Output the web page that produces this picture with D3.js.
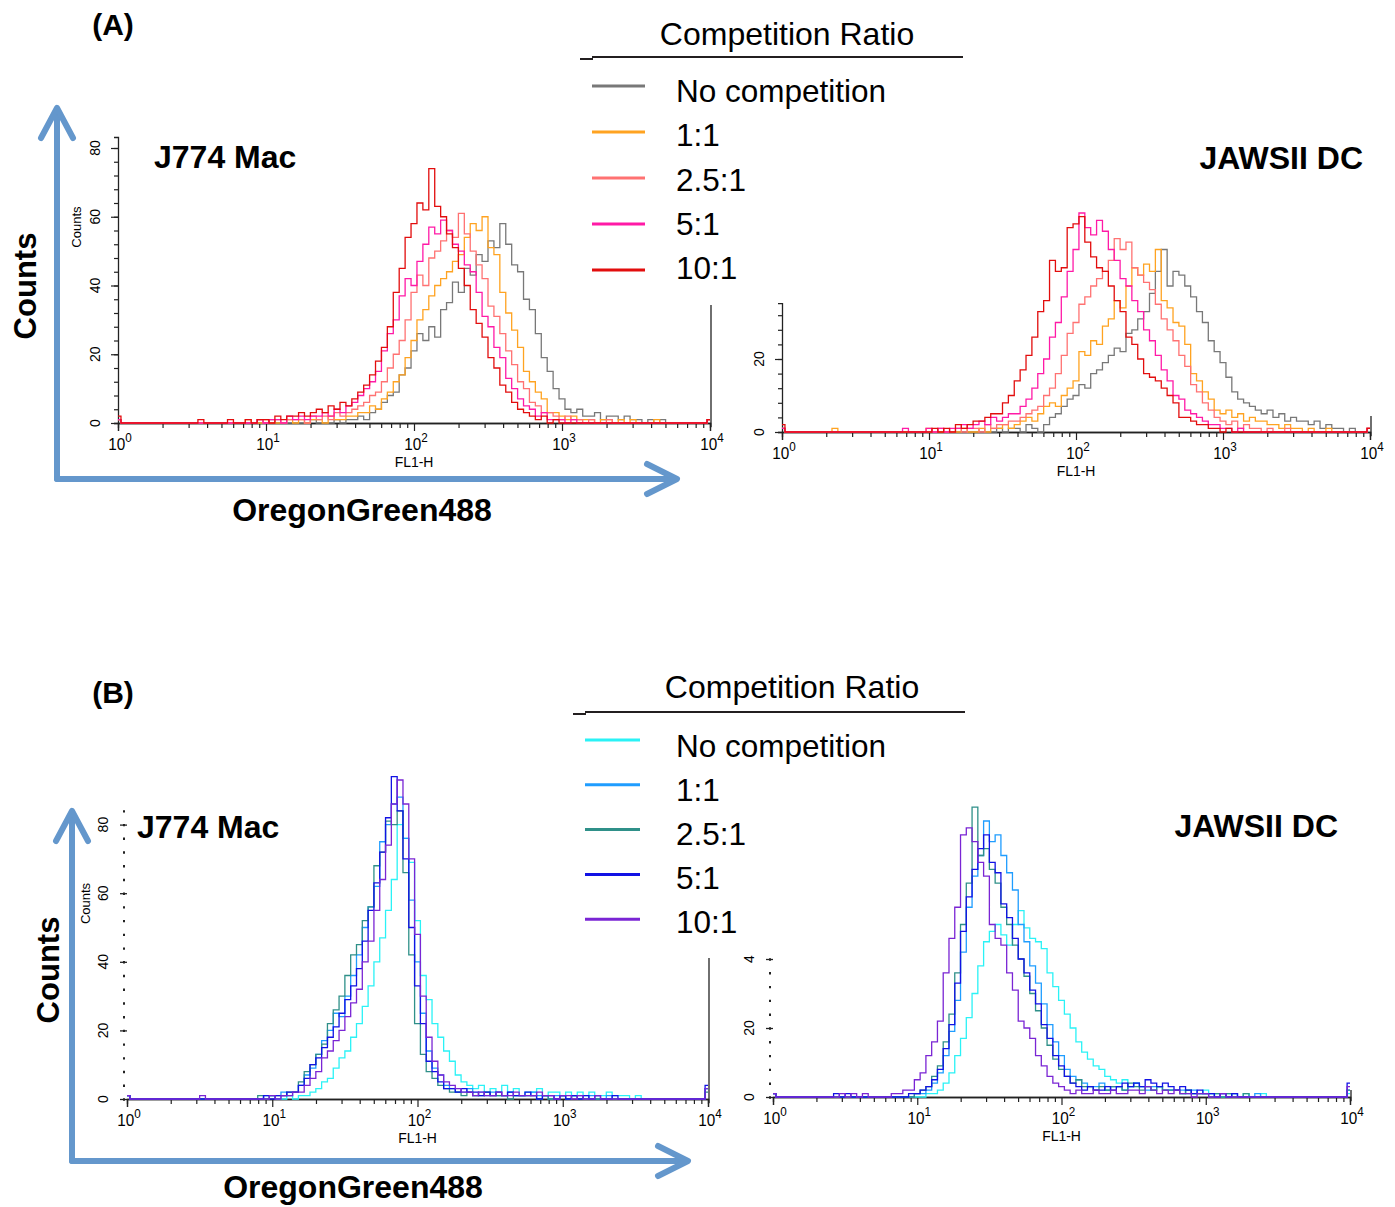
<!DOCTYPE html>
<html>
<head>
<meta charset="utf-8">
<script src="https://cdn.jsdelivr.net/npm/d3@7"></script>
<style>
  body { margin: 0; background: #fff; }
  svg { display: block; }
  text { font-family: "Liberation Sans", Arial, Helvetica, sans-serif; fill: #000; }
</style>
</head>
<body>
<svg id="fig" width="1395" height="1207"></svg>
<script>
// ---------------------------------------------------------------------------
// FL1-H histograms: 101 channels, 0.04 decade apart, from 10^0 to 10^4
// ---------------------------------------------------------------------------
const binStep = 0.04;
const decadeTicks = [1, 10, 100, 1000, 10000];
const decadeExponents = ["0", "1", "2", "3", "4"];
const legendTitle = "Competition Ratio";
const ratioLabels = ["No competition", "1:1", "2.5:1", "5:1", "10:1"];
const cellLines = ["J774 Mac", "JAWSII DC"];
const colorsA = ["#787878", "#ffa321", "#ff7272", "#ff1aa6", "#e20d0d"];
const colorsB = ["#2af2f6", "#1f9dff", "#2f9089", "#1212e4", "#7a25d4"];

// (A) J774 macrophages, counts per channel
const macA_none = [
  1,0,0,0,0,0,0,0,0,0,  0,0,0,0,0,0,0,0,0,0,  0,0,0,0,0,0,1,0,0,0,
  0,0,0,1,0,0,0,1,0,1,  1,2,1,3,4,6,8,9,14,16,  21,26,24,28,25,33,35,41,38,45,
  43,49,47,53,51,58,52,46,44,36,  33,26,19,15,10,7,4,3,4,2,  2,3,1,2,2,1,2,1,1,0,
  1,0,1,0,0,0,0,0,0,0,  1];
const macA_1to1 = [
  1,0,0,0,0,0,0,0,0,0,  0,0,0,0,0,0,0,0,0,0,  0,0,1,0,0,1,0,0,0,1,
  0,1,0,1,1,0,2,1,1,2,  2,3,3,5,4,7,9,12,14,19,  24,30,33,37,40,42,44,47,49,54,
  58,56,60,51,49,38,32,27,22,15,  12,9,7,3,3,2,1,2,1,1,  1,0,1,1,0,1,0,1,0,0,
  0,1,0,0,0,0,0,0,0,0,  1];
const macA_2p5to1 = [
  1,0,0,0,0,0,0,0,0,0,  0,0,0,0,0,0,0,0,0,0,  0,0,0,0,1,0,0,1,0,1,
  1,1,0,2,1,2,1,3,2,3,  4,5,6,8,9,12,16,20,24,30,  38,43,40,48,50,53,56,54,61,55,
  50,46,42,34,31,26,21,17,12,10,  6,5,3,3,2,1,2,1,1,0,  1,0,0,1,0,0,0,0,0,0,
  0,0,0,0,0,0,0,0,0,0,  1];
const macA_5to1 = [
  1,0,0,0,0,0,0,0,0,0,  0,0,0,0,0,0,0,0,0,0,  0,0,0,0,1,0,1,1,0,2,
  1,2,1,2,2,3,2,4,3,5,  6,8,10,12,15,21,26,30,37,42,  40,47,52,57,55,59,56,52,50,46,
  44,38,31,28,22,19,13,10,7,5,  4,2,3,1,1,1,0,1,0,0,  0,0,0,0,0,0,0,0,0,0,
  0,0,0,0,0,0,0,0,0,0,  1];
const macA_10to1 = [
  2,0,0,0,0,0,0,0,0,0,  0,0,0,0,1,0,0,0,0,1,  0,0,1,0,1,1,0,2,1,2,
  2,3,2,3,4,3,5,4,6,5,  7,9,11,14,18,22,28,38,45,54,  58,64,62,74,63,60,55,51,45,40,
  33,29,25,19,16,11,9,6,4,3,  2,1,2,0,1,0,0,0,0,0,  0,0,0,0,0,0,0,0,0,0,
  0,0,0,0,0,0,0,0,0,0,  1];

// (A) JAWSII dendritic cells
const jawA_none = [
  1,0,0,0,0,0,0,0,0,0,  0,0,0,0,0,0,0,0,0,0,  0,0,0,0,0,0,0,0,0,0,
  0,0,0,0,0,0,0,1,0,1,  1,0,2,1,0,2,4,5,7,9,  10,13,12,16,17,19,21,23,22,27,
  28,31,33,38,44,50,40,44,43,40,  37,33,30,25,22,19,15,11,9,8,  7,6,5,6,4,5,3,4,3,3,
  2,3,1,2,1,1,0,1,0,0,  1];
const jawA_1to1 = [
  1,0,0,0,0,0,0,0,0,1,  0,0,0,0,0,0,0,0,0,0,  0,0,0,0,0,1,0,0,0,0,
  0,1,0,0,1,0,1,1,2,1,  2,3,4,3,5,7,8,7,10,12,  14,22,21,25,24,29,31,36,34,40,
  45,43,46,44,50,36,34,30,29,24,  16,14,11,9,6,5,6,4,5,3,  4,3,3,2,2,1,2,1,1,0,
  1,0,0,1,0,0,0,0,0,0,  1];
const jawA_2p5to1 = [
  1,0,0,0,0,0,0,0,0,0,  0,0,0,0,0,0,0,0,0,0,  0,0,0,0,0,0,0,1,0,0,
  1,0,1,1,0,2,1,2,2,3,  3,4,5,6,7,10,12,16,21,27,  30,35,37,40,42,44,47,53,50,52,
  45,43,41,39,35,31,28,25,21,18,  13,11,8,6,4,3,2,3,1,2,  1,1,0,1,0,0,1,0,0,0,
  0,0,0,0,0,0,0,0,0,0,  1];
const jawA_5to1 = [
  1,0,0,0,0,0,0,0,0,0,  0,0,0,0,0,0,0,0,0,0,  0,1,0,0,0,1,0,1,0,1,
  1,2,1,2,3,2,4,3,4,5,  5,7,9,12,16,20,26,30,37,44,  50,60,56,54,58,55,50,47,42,40,
  36,33,28,25,21,17,14,10,9,6,  5,4,3,2,2,1,1,0,1,0,  0,0,0,0,0,0,0,0,0,0,
  0,0,0,0,0,0,0,0,0,0,  1];
const jawA_10to1 = [
  2,0,0,0,0,0,0,0,0,0,  0,0,0,0,0,0,0,0,0,0,  0,0,0,0,0,0,1,0,1,0,
  2,1,2,3,3,4,5,5,8,10,  14,17,21,26,33,36,47,44,45,56,  57,59,52,48,45,44,40,36,33,26,
  24,20,16,15,14,12,10,8,4,4,  3,2,2,1,1,0,1,0,0,0,  0,0,0,0,0,0,0,0,0,0,
  0,0,0,0,0,0,0,0,0,0,  1];

// (B) J774 macrophages
const macB_none = [
  1,0,0,0,0,0,0,0,0,0,  0,0,0,0,0,0,0,0,0,0,  0,0,0,0,0,1,0,0,1,0,
  1,1,2,3,5,6,9,12,14,18,  22,27,33,40,47,55,64,80,76,69,  52,36,29,22,18,14,11,7,5,4,
  3,4,2,3,2,4,2,3,1,2,  2,3,1,2,2,1,2,1,2,1,  2,1,1,2,1,1,1,0,1,0,
  0,0,0,0,0,0,0,0,0,0,  3];
const macB_1to1 = [
  1,0,0,0,0,0,0,0,0,0,  0,0,0,0,0,0,0,0,0,0,  0,0,0,0,1,1,0,2,1,2,
  4,7,9,13,17,20,25,24,30,36,  42,50,56,62,75,80,86,88,76,58,  40,25,14,9,7,4,3,2,2,3,
  1,2,1,2,1,1,2,1,1,1,  2,1,1,0,1,1,0,1,1,0,  1,0,0,1,0,0,0,0,0,0,
  0,0,0,0,0,0,0,0,0,0,  3];
const macB_2p5to1 = [
  1,0,0,0,0,0,0,0,0,0,  0,0,0,0,0,0,0,0,0,0,  0,0,0,1,0,1,1,1,2,2,
  5,8,10,13,16,22,26,30,36,42,  45,52,56,68,72,81,80,84,66,42,  22,13,8,6,4,3,2,2,1,2,
  1,1,2,1,1,1,0,1,1,1,  1,0,1,0,0,1,0,1,0,0,  0,0,0,0,0,0,0,0,0,0,
  0,0,0,0,0,0,0,0,0,0,  2];
const macB_5to1 = [
  1,0,0,0,0,0,0,0,0,0,  0,0,0,0,0,0,0,0,0,0,  0,0,0,0,1,0,1,1,2,2,
  4,6,10,12,15,18,21,25,29,33,  38,46,55,63,72,82,94,84,70,50,  33,22,11,8,5,3,3,2,3,2,
  2,1,2,1,2,1,2,1,1,2,  1,0,1,1,0,1,0,1,0,1,  0,1,0,0,1,0,0,0,0,0,
  0,0,0,0,0,0,0,0,0,0,  4];
const macB_10to1 = [
  1,0,0,0,0,0,0,0,0,0,  0,0,0,1,0,0,0,0,0,0,  0,0,0,0,0,1,0,1,1,2,
  2,4,6,8,12,14,17,20,24,28,  32,40,46,55,64,74,86,93,86,70,  48,30,18,11,7,5,4,3,2,2,
  1,2,1,1,2,1,1,2,1,1,  1,2,1,1,0,1,1,0,1,0,  0,1,0,0,0,0,0,0,0,0,
  0,0,0,0,0,0,0,0,0,0,  3];

// (B) JAWSII dendritic cells
const jawB_none = [
  1,0,0,0,0,0,0,0,0,0,  0,0,0,0,0,0,0,0,0,0,  0,0,0,0,0,0,0,1,1,2,
  4,7,12,17,23,30,38,45,48,50,  47,44,50,54,49,46,45,43,36,32,  28,24,20,16,13,11,9,8,6,5,
  4,5,3,4,3,3,2,3,2,2,  2,1,2,1,1,2,1,1,0,1,  1,0,1,0,0,1,0,0,0,0,
  0,0,0,0,0,0,0,0,0,0,  1];
const jawB_1to1 = [
  1,0,0,0,0,0,0,0,0,0,  0,0,0,0,0,0,0,0,0,0,  0,0,0,0,0,1,1,2,4,7,
  12,19,28,42,55,64,70,80,74,76,  70,65,60,50,45,38,33,27,21,16,  12,8,6,5,4,3,3,4,2,3,
  3,2,3,4,3,2,3,3,2,2,  2,2,1,2,1,1,1,0,1,0,  1,0,0,0,1,0,0,0,0,0,
  0,0,0,0,0,0,0,0,0,0,  2];
const jawB_2p5to1 = [
  1,0,0,0,0,0,0,0,0,0,  0,0,0,0,0,0,0,0,0,0,  0,0,0,0,0,1,2,3,6,9,
  16,24,36,50,62,84,70,72,66,62,  55,50,44,40,35,30,25,20,15,11,  8,6,4,5,3,3,2,3,2,3,
  3,2,4,3,2,3,2,3,2,2,  2,1,2,1,1,1,0,1,0,1,  0,0,1,0,0,0,0,0,0,0,
  0,0,0,0,0,0,0,0,0,0,  2];
const jawB_5to1 = [
  1,0,0,0,0,0,0,0,0,0,  0,1,0,1,0,0,0,0,0,0,  0,0,0,0,1,1,2,3,5,8,
  14,21,33,48,58,66,72,76,68,65,  56,52,46,40,36,31,27,21,17,12,  9,6,4,3,2,3,2,2,3,2,
  3,4,3,4,3,5,4,3,4,3,  2,3,2,1,2,1,1,0,1,0,  1,0,0,0,0,0,0,0,0,0,
  0,0,0,0,0,0,0,0,0,0,  4];
const jawB_10to1 = [
  1,0,0,0,0,0,0,0,0,0,  0,0,1,0,1,0,1,0,0,0,  0,1,1,2,2,5,7,12,16,22,
  36,46,55,76,78,74,68,64,50,46,  44,36,31,22,20,17,12,9,6,4,  3,2,1,2,1,1,2,1,1,2,
  1,1,2,2,1,3,2,1,2,1,  2,1,1,0,1,1,0,0,1,0,  0,0,0,0,0,0,0,0,0,0,
  0,0,0,0,0,0,0,0,0,0,  3];

// ---------------------------------------------------------------------------
// Layout of the four histogram panels
// ---------------------------------------------------------------------------
const panels = [
  { series: [macA_none, macA_1to1, macA_2p5to1, macA_5to1, macA_10to1], colors: colorsA,
    x0: 118, x1: 710, base: 423, pxPerCount: 3.4375, yTop: 83.2, dotted: false, labelGap: 18,
    yLabels: [[0, "0"], [20, "20"], [40, "40"], [60, "60"], [80, "80"]],
    smallCounts: true, frameTop: 305, name: cellLines[0], nameX: 154, nameY: 168, nameAnchor: "start" },
  { series: [jawA_none, jawA_1to1, jawA_2p5to1, jawA_5to1, jawA_10to1], colors: colorsA,
    x0: 782, x1: 1370, base: 432, pxPerCount: 3.65, yTop: 35.3, dotted: false, labelGap: 18,
    yLabels: [[0, "0"], [20, "20"]],
    smallCounts: false, frameTop: 416, name: cellLines[1], nameX: 1363, nameY: 169, nameAnchor: "end" },
  { series: [macB_none, macB_1to1, macB_2p5to1, macB_5to1, macB_10to1], colors: colorsB,
    x0: 127, x1: 708, base: 1099, pxPerCount: 3.43, yTop: 87.5, dotted: true, labelGap: 19,
    yLabels: [[0, "0"], [20, "20"], [40, "40"], [60, "60"], [80, "80"]],
    smallCounts: true, frameTop: 958, name: cellLines[0], nameX: 137, nameY: 838, nameAnchor: "start" },
  { series: [jawB_none, jawB_1to1, jawB_2p5to1, jawB_5to1, jawB_10to1], colors: colorsB,
    x0: 773, x1: 1350, base: 1097, pxPerCount: 3.45, yTop: 41, dotted: true, labelGap: 19,
    yLabels: [[0, "0"], [20, "20"], [40, "4"]],
    smallCounts: false, frameTop: 1090, name: cellLines[1], nameX: 1338, nameY: 837, nameAnchor: "end" }
];

const svg = d3.select("#fig");
const channels = d3.range(101).map(i => Math.pow(10, i * binStep));
const minorTicks = [];
for (let d = 1; d < 10000; d *= 10) for (let m = 2; m <= 9; m++) minorTicks.push(d * m);

panels.forEach(p => {
  const g = svg.append("g");
  const x = d3.scaleLog().domain([1, 10000]).range([p.x0, p.x1]);
  const y = d3.scaleLinear().domain([0, p.yTop]).range([p.base, p.base - p.yTop * p.pxPerCount]);

  // x axis: decades and minor ticks
  const gx = g.append("g").attr("transform", `translate(0,${p.base})`);
  gx.call(d3.axisBottom(x).tickValues(minorTicks).tickSize(5).tickFormat(""));
  gx.call(g2 => g2.append("g").call(d3.axisBottom(x).tickValues(decadeTicks).tickSize(8).tickFormat("")));
  gx.selectAll("path.domain").attr("stroke", "#222").attr("stroke-width", 1.3);
  gx.selectAll(".tick line").attr("stroke", "#222").attr("stroke-width", 1.2);

  decadeTicks.forEach((v, k) => {
    const t = g.append("text")
      .attr("transform", `translate(${x(v) + 2},${p.base + 27}) scale(0.9,1)`)
      .attr("text-anchor", "middle").attr("font-size", 17).attr("fill", "#111");
    t.append("tspan").text("10");
    t.append("tspan").attr("dy", -8).attr("font-size", 13).text(decadeExponents[k]);
  });
  g.append("text")
    .attr("transform", `translate(${x(100)},${p.base + 44}) scale(0.9,1)`)
    .attr("text-anchor", "middle").attr("font-size", 15.5).attr("fill", "#111").text("FL1-H");

  // y axis
  const yMinor = d3.range(0, p.yTop, 4);
  const gy = g.append("g").attr("transform", `translate(${p.x0},0)`);
  if (p.dotted) {
    gy.call(d3.axisLeft(y).tickValues(yMinor).tickSize(2).tickFormat(""));
    gy.select("path.domain").remove();
    gy.selectAll(".tick line").attr("stroke", "#222").attr("stroke-width", 2.4).attr("transform", "translate(-2,0)");
    gy.append("g").call(d3.axisLeft(y).tickValues(p.yLabels.map(d => d[0])).tickSize(7).tickFormat(""))
      .call(a => a.select("path.domain").remove())
      .selectAll(".tick line").attr("stroke", "#222").attr("stroke-width", 1.3);
  } else {
    gy.call(d3.axisLeft(y).tickValues(yMinor).tickSize(4).tickFormat(""));
    gy.append("g").call(d3.axisLeft(y).tickValues(p.yLabels.map(d => d[0])).tickSize(7).tickFormat(""))
      .call(a => a.select("path.domain").remove());
    gy.selectAll("path.domain").attr("stroke", "#222").attr("stroke-width", 1.3);
    gy.selectAll(".tick line").attr("stroke", "#222").attr("stroke-width", 1.2);
  }
  p.yLabels.forEach(([v, s]) => {
    g.append("text")
      .attr("transform", `translate(${p.x0 - p.labelGap},${y(v)}) rotate(-90)`)
      .attr("text-anchor", "middle").attr("font-size", 14).attr("fill", "#111").text(s);
  });
  if (p.smallCounts) {
    g.append("text")
      .attr("transform", `translate(${p.x0 - 37},${y(57)}) rotate(-90)`)
      .attr("text-anchor", "middle").attr("font-size", 13).attr("fill", "#111").text("Counts");
  }

  // right edge of the plotting frame
  g.append("line").attr("x1", p.x1 + 1).attr("x2", p.x1 + 1)
    .attr("y1", p.frameTop).attr("y2", p.base + 4)
    .attr("stroke", "#222").attr("stroke-width", 1.3);

  // histograms
  const line = d3.line()
    .x((d, i) => x(channels[i]))
    .y(d => y(d))
    .curve(d3.curveStep);
  p.series.forEach((s, k) => {
    g.append("path").attr("d", line(s)).attr("fill", "none")
      .attr("stroke", p.colors[k]).attr("stroke-width", 1.3).attr("stroke-linejoin", "miter");
  });

  g.append("text").attr("x", p.nameX).attr("y", p.nameY)
    .attr("text-anchor", p.nameAnchor).attr("font-size", 32).attr("font-weight", "bold").text(p.name);
});

// ---------------------------------------------------------------------------
// Legends
// ---------------------------------------------------------------------------
function legend(cx, titleY, ruleY, ruleX0, ruleX1, sx0, sx1, lineY0, lineStep, textY0, textStep, colors) {
  svg.append("text").attr("x", cx).attr("y", titleY).attr("text-anchor", "middle")
    .attr("font-size", 32).text(legendTitle);
  svg.append("line").attr("x1", ruleX0 + 12).attr("x2", ruleX1).attr("y1", ruleY).attr("y2", ruleY)
    .attr("stroke", "#231f20").attr("stroke-width", 2);
  svg.append("line").attr("x1", ruleX0).attr("x2", ruleX0 + 13).attr("y1", ruleY + 2).attr("y2", ruleY + 2)
    .attr("stroke", "#231f20").attr("stroke-width", 2);
  ratioLabels.forEach((lab, k) => {
    const yy = lineY0 + k * lineStep;
    svg.append("line").attr("x1", sx0).attr("x2", sx1).attr("y1", yy).attr("y2", yy)
      .attr("stroke", colors[k]).attr("stroke-width", 3);
    svg.append("text").attr("x", 676).attr("y", textY0 + k * textStep).attr("font-size", 31.5).text(lab);
  });
}
legend(787, 45, 57, 580, 963, 592, 645, 86, 46, 102, 44.25, colorsA);
legend(792, 698, 712, 573, 965, 585, 640, 740, 44.8, 757, 44, colorsB);

// ---------------------------------------------------------------------------
// Shared axis arrows and titles
// ---------------------------------------------------------------------------
const arrowBlue = "#6497cc";
function arrows(ox, oy, topY, rightX) {
  const a = svg.append("g").attr("stroke", arrowBlue).attr("stroke-width", 6)
    .attr("fill", "none").attr("stroke-linecap", "round").attr("stroke-linejoin", "round");
  a.append("path").attr("d", `M${ox},${oy} V${topY + 2}`);
  a.append("path").attr("d", `M${ox - 16},${topY + 30} L${ox},${topY} L${ox + 16},${topY + 30}`);
  a.append("path").attr("d", `M${ox},${oy} H${rightX - 2}`);
  a.append("path").attr("d", `M${rightX - 30},${oy - 15} L${rightX},${oy} L${rightX - 30},${oy + 15}`);
}
arrows(57, 479, 108, 677);
arrows(72, 1161, 811, 688);

function bigLabels(countsX, countsY, xLabelX, xLabelY, tag, tagY) {
  svg.append("text").attr("transform", `translate(${countsX},${countsY}) rotate(-90)`)
    .attr("text-anchor", "middle").attr("font-size", 31).attr("font-weight", "bold").text("Counts");
  svg.append("text").attr("x", xLabelX).attr("y", xLabelY).attr("text-anchor", "middle")
    .attr("font-size", 32).attr("font-weight", "bold").text("OregonGreen488");
  svg.append("text").attr("x", 113).attr("y", tagY).attr("text-anchor", "middle")
    .attr("font-size", 30).attr("font-weight", "bold").text(tag);
}
bigLabels(36, 286, 362, 521, "(A)", 35);
bigLabels(59, 970, 353, 1198, "(B)", 703);
</script>
</body>
</html>
